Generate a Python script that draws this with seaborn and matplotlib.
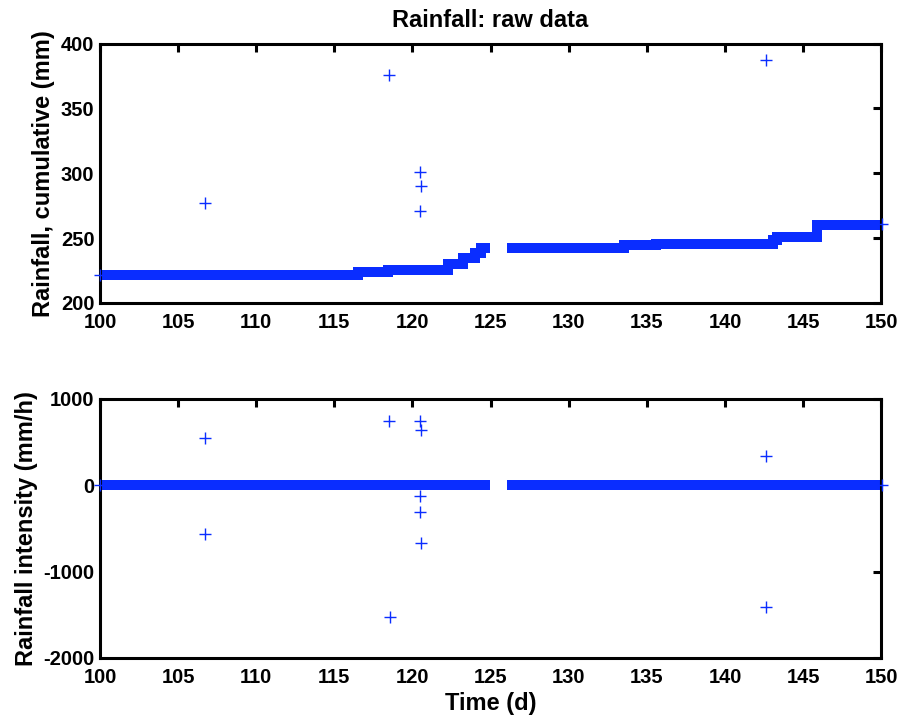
import numpy as np
import pandas as pd
import matplotlib
matplotlib.use("Agg")
import matplotlib.pyplot as plt
import seaborn as sns

# ---- data ----
# cumulative rainfall: step levels (start time of each level, level value)
cum_t1 = [100.0, 116.5, 118.45, 122.3, 123.25, 124.0, 124.4, 124.97]
cum_v1 = [221.2, 223.6, 225.7, 230.3, 235.0, 238.8, 242.4, 242.4]
cum_t2 = [126.04, 133.55, 135.6, 143.1, 143.35, 145.9, 149.9]
cum_v2 = [242.4, 244.5, 245.6, 248.5, 251.1, 259.9, 259.9]

# outliers in cumulative rainfall
out_cum_t = [106.7, 118.5, 120.45, 120.57, 120.5, 142.6, 100.0, 150.05]
out_cum_v = [277, 376, 301, 290, 271, 387, 221.2, 260.6]

# rainfall intensity: zero bands
int_t1 = [100.0, 124.97]
int_v1 = [0, 0]
int_t2 = [126.04, 149.9]
int_v2 = [0, 0]

# outliers in intensity
out_int_t = [106.7, 106.7, 118.5, 118.55, 120.45, 120.57, 120.5, 120.5, 120.57, 142.6, 142.6, 100.0, 150.05]
out_int_v = [545, -560, 750, -1525, 745, 637, -127, -313, -664, 340, -1410, 0, 0]

xticks = [100, 105, 110, 115, 120, 125, 130, 135, 140, 145, 150]
yticks_top = [200, 250, 300, 350, 400]
yticks_bot = [-2000, -1000, 0, 1000]

BLUE = "#0a2dff"

sns.set_style("white")
plt.rcParams["font.family"] = ["Liberation Sans", "DejaVu Sans"]
plt.rcParams["font.weight"] = "bold"
plt.rcParams["text.color"] = "black"
plt.rcParams["axes.labelcolor"] = "black"
plt.rcParams["xtick.color"] = "black"
plt.rcParams["ytick.color"] = "black"
plt.rcParams["lines.solid_capstyle"] = "butt"
plt.rcParams["lines.solid_joinstyle"] = "miter"

fig = plt.figure(figsize=(9.01, 7.18), dpi=100)
ax1 = fig.add_axes([0.111, 0.578, 0.867, 0.3614])
ax2 = fig.add_axes([0.111, 0.0836, 0.867, 0.3607])

TICK_FS = 14.5
LABEL_FS = 17


def style(ax, yticks, ylim):
    ax.set_xlim(100, 150)
    ax.set_ylim(*ylim)
    ax.set_xticks(xticks)
    ax.set_yticks(yticks)
    ax.set_xticklabels([str(t) for t in xticks])
    ax.set_yticklabels([str(t) for t in yticks])
    for s in ax.spines.values():
        s.set_linewidth(2.2)
        s.set_color("black")
        s.set_visible(True)
    ax.tick_params(direction="in", length=6, width=2.2, top=True, right=True,
                   labelsize=TICK_FS, colors="black", labelcolor="black")
    ax.tick_params(axis="x", pad=7)
    ax.tick_params(axis="y", pad=4)
    for lab in ax.get_xticklabels() + ax.get_yticklabels():
        lab.set_fontweight("bold")


# top panel
for t, v in [(cum_t1, cum_v1), (cum_t2, cum_v2)]:
    df = pd.DataFrame({"t": t, "v": v})
    sns.lineplot(data=df, x="t", y="v", ax=ax1, color=BLUE, linewidth=7.2,
                 drawstyle="steps-post", solid_capstyle="butt",
                 solid_joinstyle="miter", sort=False)
sns.scatterplot(x=out_cum_t, y=out_cum_v, ax=ax1, marker="+", s=70,
                color=BLUE, linewidth=1.0, clip_on=False, zorder=3)
style(ax1, yticks_top, (200, 400))
ax1.set_xlabel("")
ax1.set_ylabel("Rainfall, cumulative (mm)", fontsize=LABEL_FS, fontweight="bold",
               labelpad=4, color="black")
ax1.set_title("Rainfall: raw data", fontsize=LABEL_FS, fontweight="bold", pad=12,
              color="black")

# bottom panel
for t, v in [(int_t1, int_v1), (int_t2, int_v2)]:
    df = pd.DataFrame({"t": t, "v": v})
    sns.lineplot(data=df, x="t", y="v", ax=ax2, color=BLUE, linewidth=7.2,
                 solid_capstyle="butt", sort=False)
sns.scatterplot(x=out_int_t, y=out_int_v, ax=ax2, marker="+", s=70,
                color=BLUE, linewidth=1.0, clip_on=False, zorder=3)
style(ax2, yticks_bot, (-2000, 1000))
ax2.set_xlabel("Time (d)", fontsize=LABEL_FS, fontweight="bold", labelpad=4, color="black")
ax2.set_ylabel("Rainfall intensity (mm/h)", fontsize=LABEL_FS, fontweight="bold",
               labelpad=4, color="black")

fig.savefig("out.png", dpi=100)
